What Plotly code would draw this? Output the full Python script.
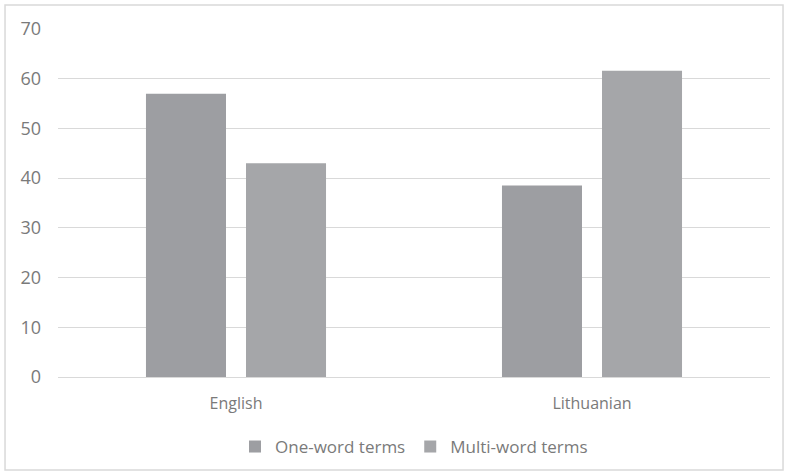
import plotly.graph_objects as go

categories = ["English", "Lithuanian"]
one_word = [57.0, 38.5]
multi_word = [43.0, 61.6]
series_names = ["One-word terms", "Multi-word terms"]
y_ticks = [0, 10, 20, 30, 40, 50, 60, 70]

fig = go.Figure()
fig.add_trace(go.Bar(x=categories, y=one_word, name=series_names[0],
                     marker=dict(color="#9d9ea2", line=dict(width=0))))
fig.add_trace(go.Bar(x=categories, y=multi_word, name=series_names[1],
                     marker=dict(color="#a5a6a9", line=dict(width=0))))

fig.update_layout(
    width=788, height=476,
    margin=dict(l=58, r=18, t=29, b=99),
    paper_bgcolor="white", plot_bgcolor="white",
    barmode="group", bargap=0.438, bargroupgap=0.2,
    font=dict(family="Open Sans, Liberation Sans, sans-serif", size=16, color="#7a7a7a"),
    showlegend=True,
    legend=dict(orientation="h", x=0.5, xanchor="center",
                yref="container", y=0.061, yanchor="middle",
                font=dict(size=17, color="#7a7a7a"), traceorder="normal",
                itemwidth=30),
    xaxis=dict(showgrid=False, showline=False, ticks="", tickfont=dict(size=16),
               ticklabelstandoff=15, automargin=False),
    yaxis=dict(range=[0, 70], tickvals=y_ticks, showgrid=True, gridcolor="#d9d9d9",
               gridwidth=1, zeroline=True, zerolinecolor="#d9d9d9", zerolinewidth=1,
               showline=False, ticks="", tickfont=dict(size=18), ticklabelstandoff=16,
               automargin=False),
    shapes=[dict(type="rect", xref="paper", yref="paper",
                 x0=-0.0744, x1=1.0183, y0=-0.267, y1=1.069,
                 line=dict(color="#d9d9d9", width=1.5), fillcolor="rgba(0,0,0,0)",
                 layer="below")],
)

fig.write_html("out.html")
